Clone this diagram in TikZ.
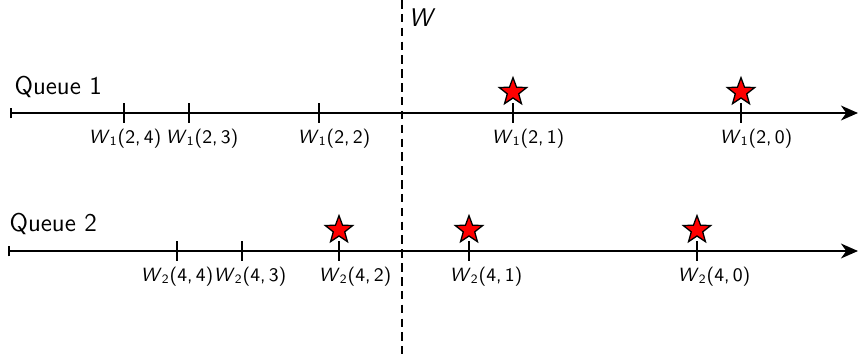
\documentclass[tikz,border=0pt]{standalone}
\usetikzlibrary{arrows.meta,shapes.geometric,positioning}

\newcommand{\wpos}[3]{\textit{W}\textsubscript{#1}(#2,\,#3)}

\tikzset{
  queue axis/.style={thick, {Bar[width=5pt]}-{Stealth[length=8pt,width=7pt,inset=2.5pt]}},
  marker/.style={thick},
  tick label/.style={font=\sffamily\small, inner sep=1pt},
  goal star/.style={star, star points=5, star point ratio=2.4, draw=black, fill=red,
    minimum size=13.5pt, inner sep=0pt, semithick},
}

\begin{document}
\begin{tikzpicture}[x=0.0165cm, y=-0.0165cm, font=\sffamily]
  \useasboundingbox (0,0) rectangle (859,354);
  % ---- separating line W ----
  \coordinate (wtop) at (402,0);
  \coordinate (wbot) at (402,354);
  \draw[thick, dash pattern=on 4pt off 2.5pt] (wtop) -- (wbot);
  \node[anchor=west, inner sep=1pt] (wlab) at (406,18) {\large\textit{W}};
  % ---- queue 1 ----
  \begin{scope}
    \coordinate (q1start) at (10,113);
    \coordinate (q1end) at (858,113);
    \draw[queue axis] (q1start) -- (q1end);
    \node[anchor=west, inner sep=1pt] (q1) at (12,87) {\large Queue 1};
    \foreach \x/\lx/\k/\s in {124/125/4/0,189/202/3/0,319/334/2/0,513/528/1/1,741/756/0/1} {
      \draw[marker] (\x,103) -- (\x,123);
      \node[tick label] (q1l\k) at (\lx,139) {\wpos{1}{2}{\k}};
      \ifnum\s=1 \node[goal star] (q1s\k) at (\x,92) {}; \fi
    }
  \end{scope}
  % ---- queue 2 ----
  \begin{scope}
    \coordinate (q2start) at (8,251);
    \coordinate (q2end) at (858,251);
    \draw[queue axis] (q2start) -- (q2end);
    \node[anchor=west, inner sep=1pt] (q2) at (7,224) {\large Queue 2};
    \foreach \x/\lx/\k/\s in {177/177/4/0,242/250/3/0,339/355/2/1,469/486/1/1,697/714/0/1} {
      \draw[marker] (\x,241) -- (\x,261);
      \node[tick label] (q2l\k) at (\lx,277) {\wpos{2}{4}{\k}};
      \ifnum\s=1 \node[goal star] (q2s\k) at (\x,230) {}; \fi
    }
  \end{scope}
\end{tikzpicture}
\end{document}
